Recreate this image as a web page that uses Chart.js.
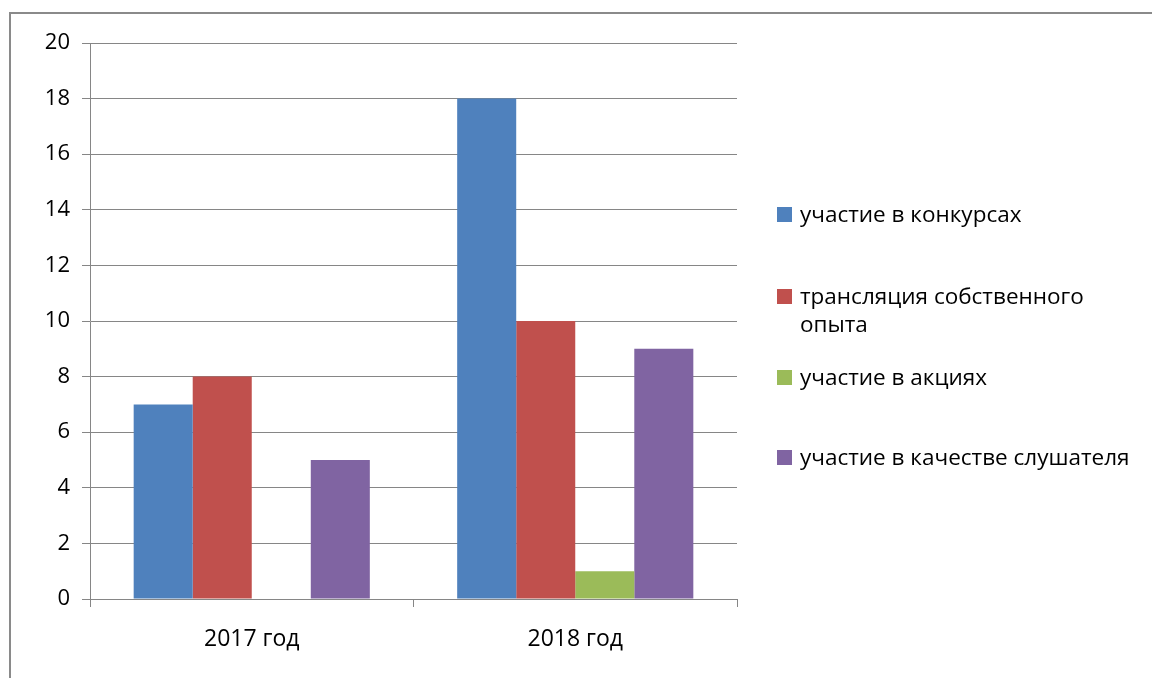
<!DOCTYPE html>
<html>
<head>
<meta charset="utf-8">
<script src="https://cdn.jsdelivr.net/npm/chart.js@4"></script>
<style>
    body { margin: 0; background: #fff; }
    #wrap { position: relative; width: 1152px; height: 678px; overflow: hidden; }
    #frame { position: absolute; left: 9px; top: 12px; width: 1200px; height: 700px;
             border-top: 2px solid #8a8a8a; border-left: 2px solid #8a8a8a; }
    #legend { position: absolute; left: 777px; top: 0; font-family: "Open Sans", sans-serif;
              font-size: 22.5px; color: #000; }
    .item { position: absolute; left: 0; line-height: 28px; padding-left: 23px; }
    .box { position: absolute; left: 0; top: 7px; width: 15px; height: 15px; }
</style>
</head>
<body>
<div id="wrap">
    <div id="frame"></div>
    <canvas id="chart" width="1152" height="678"></canvas>
    <div id="legend"></div>
</div>
<script>
// Data
const years = ['2017 год', '2018 год'];
const seriesNames = ['участие в конкурсах', 'трансляция собственного опыта', 'участие в акциях', 'участие в качестве слушателя'];
const contests = [7, 18];
const ownExperience = [8, 10];
const actions = [0, 1];
const listener = [5, 9];
const seriesColors = ['#4F81BD', '#C0504D', '#9BBB59', '#8064A2'];
const legendTops = [200, 282, 363, 443];

const values = [contests, ownExperience, actions, listener];
const fontFamily = '"Open Sans", sans-serif';

new Chart(document.getElementById('chart').getContext('2d'), {
    type: 'bar',
    data: {
        labels: years,
        datasets: seriesNames.map((name, i) => ({
            label: name,
            data: values[i],
            backgroundColor: seriesColors[i],
            borderWidth: 0,
            barPercentage: 1,
            categoryPercentage: 0.73
        }))
    },
    options: {
        responsive: false,
        animation: false,
        layout: { padding: { top: 43, right: 415, left: 0, bottom: 0 } },
        plugins: { legend: { display: false }, tooltip: { enabled: false } },
        scales: {
            x: {
                afterFit: function(scale) { scale.height = 79; },
                grid: { drawOnChartArea: false, drawTicks: true, tickLength: 8, color: '#868686' },
                border: { color: '#868686', width: 1 },
                ticks: { color: '#000', font: { family: fontFamily, size: 23 }, padding: 19 }
            },
            y: {
                min: 0, max: 20,
                afterFit: function(scale) { scale.width = 90; },
                grid: { color: '#868686', tickLength: 8 },
                border: { color: '#868686', width: 1 },
                ticks: { stepSize: 2, color: '#000', font: { family: fontFamily, size: 22 }, padding: 12 }
            }
        }
    }
});

// legend on the right
const legend = document.getElementById('legend');
seriesNames.forEach((name, i) => {
    const item = document.createElement('div');
    item.className = 'item';
    item.style.top = legendTops[i] + 'px';
    item.style.width = (i === 1 ? 300 : 360) + 'px';
    const box = document.createElement('span');
    box.className = 'box';
    box.style.background = seriesColors[i];
    item.appendChild(box);
    item.appendChild(document.createTextNode(name));
    legend.appendChild(item);
});
</script>
</body>
</html>
